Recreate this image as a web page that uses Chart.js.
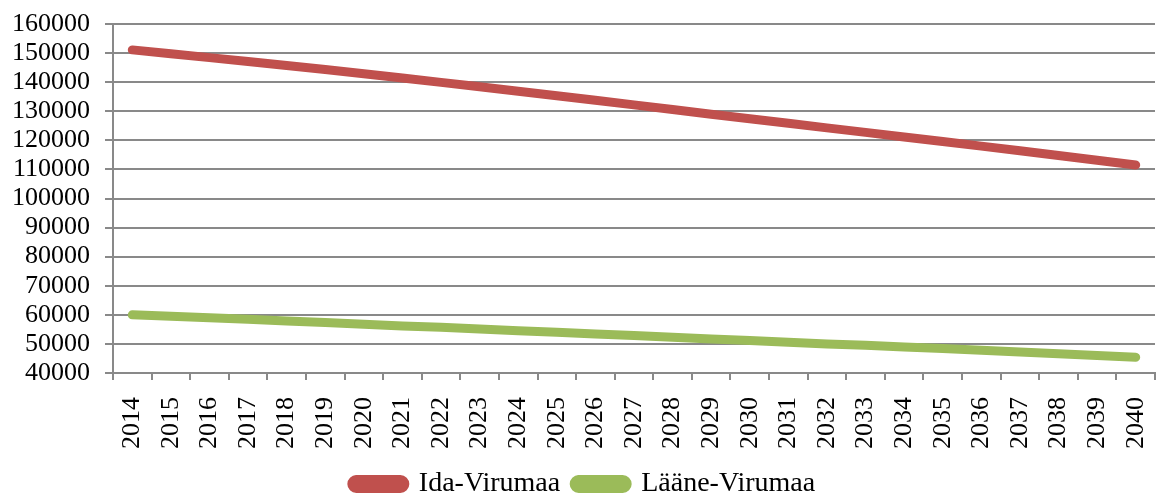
<!DOCTYPE html>
<html>
<head>
<meta charset="utf-8">
<script src="https://cdn.jsdelivr.net/npm/chart.js@4"></script>
<style>
  html, body { margin: 0; padding: 0; background: #fff; }
  #wrap { width: 1165px; height: 494px; position: relative; }
</style>
</head>
<body>
<div id="wrap"><canvas id="myChart"></canvas></div>
<script>
// Years on the x axis
const years = ['2014', '2015', '2016', '2017', '2018', '2019', '2020', '2021', '2022',
  '2023', '2024', '2025', '2026', '2027', '2028', '2029', '2030', '2031', '2032',
  '2033', '2034', '2035', '2036', '2037', '2038', '2039', '2040']

// Population projections
const idaVirumaa = [151100, 149770, 148440, 147100, 145760, 144330, 142880, 141410,
  139920, 138420, 136900, 135350, 133780, 132190, 130600, 129000, 127420, 125850,
  124290, 122730, 121170, 119600, 118000, 116400, 114800, 113150, 111500]
const laaneVirumaa = [60000, 59500, 59000, 58500, 57900, 57400, 56800, 56200,
  55700, 55100, 54500, 54000, 53400, 52900, 52300, 51700, 51200, 50600, 50000,
  49500, 48900, 48400, 47800, 47200, 46600, 46000, 45400]

const yTicks = [40000, 50000, 60000, 70000, 80000, 90000, 100000, 110000, 120000,
  130000, 140000, 150000, 160000]

const FONT = { family: '"Liberation Serif", "Times New Roman", serif', size: 26 }
const LEGEND_FONT = { family: '"Liberation Serif", "Times New Roman", serif', size: 28 }
const GRID = '#898989'

let ctx = document.getElementById('myChart')
let myChart = new Chart(ctx, {
  type: 'line',
  data: {
    labels: years,
    datasets: [{
      label: 'Ida-Virumaa',
      data: idaVirumaa,
      borderColor: '#C0504D',
      backgroundColor: '#C0504D',
      borderWidth: 9,
      borderCapStyle: 'round',
      pointRadius: 0,
      tension: 0
    }, {
      label: 'Lääne-Virumaa',
      data: laaneVirumaa,
      borderColor: '#9BBB59',
      backgroundColor: '#9BBB59',
      borderWidth: 9,
      borderCapStyle: 'round',
      pointRadius: 0,
      tension: 0
    }]
  },
  options: {
    responsive: true,
    maintainAspectRatio: false,
    animation: false,
    layout: { padding: { left: 12, right: 10, top: 24, bottom: -14 } },
    plugins: {
      tooltip: { enabled: false },
      legend: {
        position: 'bottom',
        labels: {
          color: '#000',
          font: LEGEND_FONT,
          boxWidth: 53,
          boxHeight: 9,
          useBorderRadius: true,
          borderRadius: 4.5,
          padding: 14
        }
      }
    },
    scales: {
      x: {
        offset: true,
        grid: {
          offset: true,
          drawOnChartArea: false,
          drawTicks: true,
          tickLength: 7,
          color: GRID,
          lineWidth: 2
        },
        border: { color: GRID, width: 2 },
        ticks: {
          color: '#000',
          font: FONT,
          minRotation: 90,
          maxRotation: 90,
          autoSkip: false,
          padding: 17
        },
        // fixed axis size so the plot area lines up with the picture
        afterFit: function (scale) {
          scale.height = 83
          scale.paddingLeft = 0
          scale.paddingRight = 0
        }
      },
      y: {
        min: 40000,
        max: 160000,
        afterBuildTicks: function (axis) {
          axis.ticks = yTicks.map(v => ({ value: v }))
        },
        grid: {
          color: GRID,
          lineWidth: 2,
          tickLength: 8
        },
        border: { color: GRID, width: 2 },
        ticks: {
          color: '#000',
          font: FONT,
          padding: 15,
          autoSkip: false,
          callback: function (value) { return String(value) }
        },
        afterFit: function (scale) {
          scale.width = 101
          scale.paddingTop = 0
          scale.paddingBottom = 0
        }
      }
    }
  }
});
</script>
</body>
</html>
